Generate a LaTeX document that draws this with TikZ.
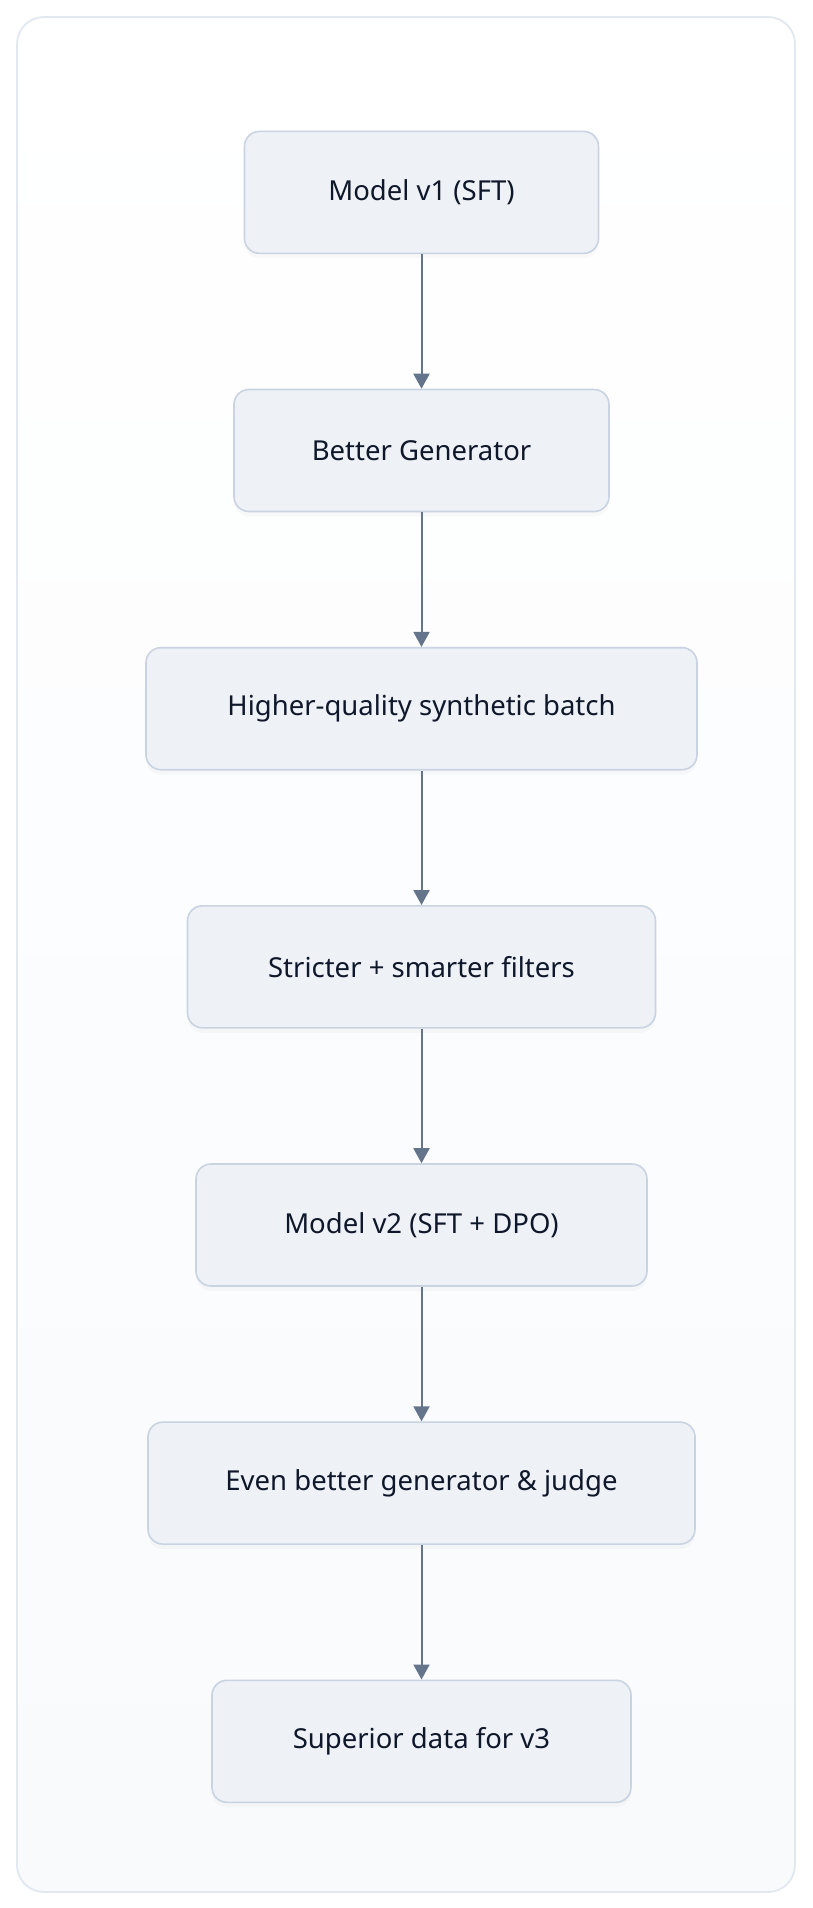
\documentclass[tikz,border=0pt]{standalone}
\usepackage{fontspec}
\setmainfont{Noto Sans}
\usetikzlibrary{arrows.meta,calc}
\definecolor{nodefill}{HTML}{EEF2F7}
\definecolor{nodeline}{HTML}{C9D3E1}
\definecolor{arrowc}{HTML}{64748B}
\definecolor{textc}{HTML}{0F172A}
\definecolor{outerline}{HTML}{E2E8F0}
\definecolor{outerbot}{HTML}{F8FAFC}
\tikzset{
  softshadow/.style={preaction={fill=black, fill opacity=0.025, rounded corners=17pt,
      transform canvas={yshift=-5pt}}},
  stepbox/.style={draw=nodeline, line width=1.6pt, fill=nodefill, rounded corners=15pt,
    minimum height=122pt, inner sep=0pt, text=textc,
    font=\fontsize{27.5}{33}\selectfont, softshadow},
  flow/.style={draw=arrowc, line width=2pt, -{Triangle[width=16pt,length=15pt]}}
}
\begin{document}
\begin{tikzpicture}[x=1pt,y=-1pt]
\useasboundingbox (0,0) rectangle (812,1908);
\fill[white] (0,0) rectangle (812,1908);
\shade[top color=white, bottom color=outerbot, rounded corners=27pt]
  (17,17) rectangle (795,1892);
\draw[outerline, line width=1.8pt, rounded corners=27pt] (17,17) rectangle (795,1892);
\node[stepbox, minimum width=354pt] (n1) at (421.5,192.4) {Model v1 (SFT)};
\node[stepbox, minimum width=375pt] (n2) at (421.5,450.5) {Better Generator};
\node[stepbox, minimum width=551pt] (n3) at (421.5,708.7) {Higher-quality synthetic batch};
\node[stepbox, minimum width=468pt] (n4) at (421.5,966.8) {Stricter + smarter filters};
\node[stepbox, minimum width=451pt] (n5) at (421.5,1225.0) {Model v2 (SFT + DPO)};
\node[stepbox, minimum width=547pt] (n6) at (421.5,1483.1) {Even better generator \& judge};
\node[stepbox, minimum width=419pt] (n7) at (421.5,1741.3) {Superior data for v3};
\draw[flow] (n1) -- (n2);
\draw[flow] (n2) -- (n3);
\draw[flow] (n3) -- (n4);
\draw[flow] (n4) -- (n5);
\draw[flow] (n5) -- (n6);
\draw[flow] (n6) -- (n7);
\end{tikzpicture}
\end{document}
